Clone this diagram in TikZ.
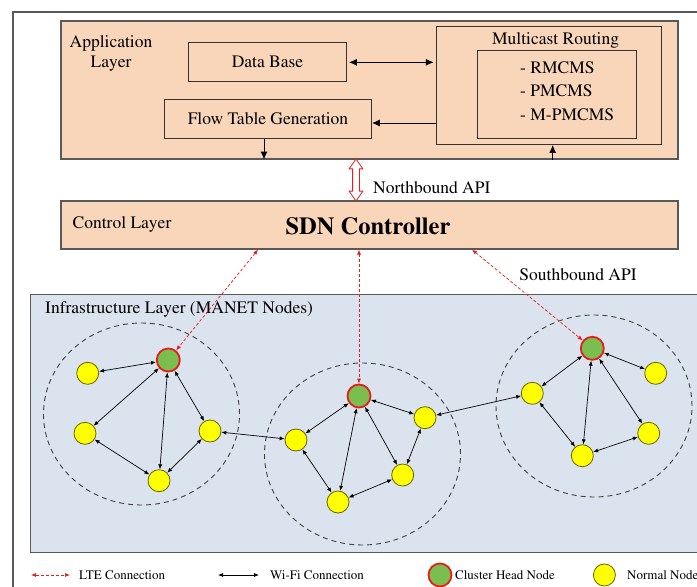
\documentclass[tikz,border=0pt]{standalone}
\usepackage[T1]{fontenc}
\usepackage{times}
\usetikzlibrary{arrows.meta,shapes.geometric,shapes.arrows}
\definecolor{peach}{RGB}{249,214,186}
\definecolor{infrablue}{RGB}{219,227,238}
\definecolor{chgreen}{RGB}{122,190,80}
\definecolor{chred}{RGB}{228,30,30}
\definecolor{nodeyel}{RGB}{255,255,0}
\tikzset{
  layer/.style={draw=black!65, line width=1.2pt, fill=peach, inner sep=0},
  block/.style={draw=black!80, line width=0.8pt, inner sep=0},
  txt/.style={font=\fontsize{17.5}{20}\selectfont, inner sep=0},
  legtxt/.style={font=\fontsize{13}{15}\selectfont, inner sep=0, anchor=west},
  cluster/.style={ellipse, draw=black!75, dash pattern=on 5pt off 4pt, line width=0.9pt, minimum width=196pt, minimum height=182pt},
  chnode/.style={circle, draw=chred, line width=1.8pt, fill=chgreen, minimum size=23pt, inner sep=0},
  mnode/.style={circle, draw=black!60!nodeyel, line width=0.8pt, fill=nodeyel, minimum size=22pt, inner sep=0},
  wifi/.style={{Latex[length=5pt,width=4pt]}-{Latex[length=5pt,width=4pt]}, line width=0.7pt},
  lte/.style={{Latex[length=5pt,width=4pt]}-{Latex[length=5pt,width=4pt]}, chred, dash pattern=on 3pt off 2pt, line width=0.7pt},
  flow/.style={-{Latex[length=8pt,width=7pt]}, line width=1pt}
}
\begin{document}
\begin{tikzpicture}[x=1pt,y=-1pt]
\useasboundingbox (0,0) rectangle (697,587);
\draw[black!65, line width=1.2pt] (13,600) -- (13,12) -- (710,12);

\node[layer, minimum width=617pt, minimum height=138pt] (app) at (369.5,90) {};
\node[txt, align=center] (applbl) at (111,53) {Application\\Layer};
\node[block, txt, minimum width=158pt, minimum height=39pt] (db) at (267.5,62.3) {Data Base};
\node[block, txt, minimum width=207pt, minimum height=39pt] (ftg) at (268,119) {Flow Table Generation};
\node[block, minimum width=225pt, minimum height=118pt] (mc) at (548.7,85.5) {};
\node[txt] (mclbl) at (555.6,40) {Multicast Routing};
\node[block, minimum width=159pt, minimum height=88pt] (algs) at (556.8,94.5) {};
\node[txt, anchor=west] (rm) at (520,68) {- RMCMS};
\node[txt, anchor=west] (pm) at (520,91) {- PMCMS};
\node[txt, anchor=west] (mpm) at (520,115) {- M-PMCMS};
\draw[flow, {Latex[length=8pt,width=7pt]}-{Latex[length=8pt,width=7pt]}] ([xshift=2pt]db.east) -- ([xshift=-2pt]db.east -| mc.west);
\draw[flow] ([yshift=-4pt]ftg.east -| mc.west) -- ([yshift=-4pt]ftg.east);
\draw[flow] ([xshift=-4pt]ftg.south) -- ([xshift=-4pt]ftg.south |- app.south);
\draw[flow] ([xshift=4pt]mc.south |- app.south) -- ([xshift=4pt]mc.south);

\node[double arrow, draw=chred, fill=white, rotate=90, minimum height=42pt, inner sep=3pt, double arrow head extend=3.5pt, double arrow tip angle=70, line width=0.8pt] (nb) at (356,180) {};
\node[txt, anchor=west] (nblbl) at (373,188) {Northbound API};

\node[layer, minimum width=617pt, minimum height=48pt] (ctrl) at (369.5,225) {};
\node[txt] (ctrllbl) at (122,224) {Control Layer};
\node[font=\fontsize{24.5}{28}\selectfont\bfseries, inner sep=0] (sdn) at (368,226) {SDN Controller};
\node[txt] (sblbl) at (578,275) {Southbound API};

\node[layer, fill=infrablue, anchor=north west, minimum width=690pt, minimum height=258pt] (infra) at (30,294) {};
\node[txt, anchor=west] (inflbl) at (45,309) {Infrastructure Layer (MANET Nodes)};

\node[cluster] (cl1) at (141.5,414) {};
\node[cluster] (cl2) at (362.5,454) {};
\node[cluster] (cl3) at (594,406) {};

\node[chnode] (ch1) at (168.3,360) {};
\node[mnode] (n11) at (87.7,373.3) {}; \node[mnode] (n12) at (85,433.3) {};
\node[mnode] (n13) at (159,480.7) {}; \node[mnode] (n14) at (210,431) {};
\node[chnode] (ch2) at (359,396) {};
\node[mnode] (n21) at (296,440) {}; \node[mnode] (n22) at (338,502) {};
\node[mnode] (n23) at (402.7,475) {}; \node[mnode] (n24) at (425,417.7) {};
\node[chnode] (ch3) at (592.3,348.3) {};
\node[mnode] (n31) at (532.3,393.3) {}; \node[mnode] (n32) at (582.3,455.7) {};
\node[mnode] (n33) at (648.7,433.3) {}; \node[mnode] (n34) at (655.7,373.3) {};

\draw[wifi] (ch1) -- (n11); \draw[wifi] (ch1) -- (n12); \draw[wifi] (ch1) -- (n13); \draw[wifi] (ch1) -- (n14);
\draw[wifi] (n12) -- (n13); \draw[wifi] (n13) -- (n14);
\draw[wifi] (ch2) -- (n21); \draw[wifi] (ch2) -- (n22); \draw[wifi] (ch2) -- (n23); \draw[wifi] (ch2) -- (n24);
\draw[wifi] (n21) -- (n22); \draw[wifi] (n22) -- (n23); \draw[wifi] (n23) -- (n24);
\draw[wifi] (ch3) -- (n31); \draw[wifi] (ch3) -- (n32); \draw[wifi] (ch3) -- (n33); \draw[wifi] (ch3) -- (n34);
\draw[wifi] (n31) -- (n32); \draw[wifi] (n32) -- (n33);
\draw[wifi] (n14) -- (n21); \draw[wifi] (n24) -- (n31);

\draw[lte] ([xshift=-111.5pt]ctrl.south) -- (ch1);
\draw[lte] (ch2 |- ctrl.south) -- (ch2);
\draw[lte] ([xshift=102.5pt]ctrl.south) -- (ch3);

\node[legtxt] (lglte) at (79,575) {LTE Connection};
\coordinate (lte0) at (31,575); \draw[lte] (lte0) -- ([xshift=-9pt]lglte.west);
\node[legtxt] (lgwifi) at (270,575) {Wi-Fi Connection};
\coordinate (wifi0) at (218,575); \draw[wifi] (wifi0) -- ([xshift=-11pt]lgwifi.west);
\node[chnode] (lgch) at (440,575) {}; \node[legtxt] (lgchlbl) at (455,575) {Cluster Head Node};
\node[mnode] (lgn) at (604.4,575) {}; \node[legtxt] (lgnlbl) at (627,575) {Normal Node};
\end{tikzpicture}
\end{document}
